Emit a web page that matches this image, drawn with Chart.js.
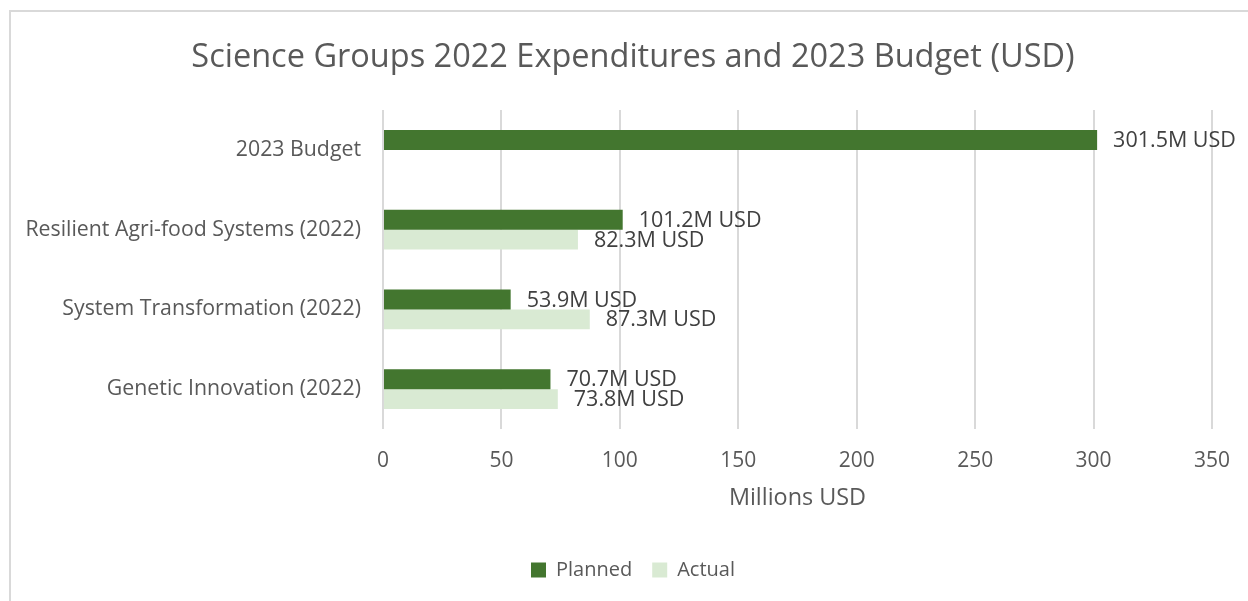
<!DOCTYPE html>
<html>
<head>
<meta charset="utf-8">
<script src="https://cdn.jsdelivr.net/npm/chart.js@4.4.0/dist/chart.umd.min.js"></script>
<style>
  html, body { margin: 0; padding: 0; background: #fff; }
  #wrap { position: relative; width: 1248px; height: 601px; overflow: hidden; }
  #frame { position: absolute; left: 9px; top: 10px; width: 1300px; height: 700px; border: 2px solid #d9d9d9; box-sizing: border-box; }
  #box { position: absolute; left: 0; top: 0; width: 1300px; height: 601px; }
</style>
</head>
<body>
<div id="wrap">
  <div id="frame"></div>
  <div id="box"><canvas id="budgetChart"></canvas></div>
</div>
<script>
const categories = [
    "2023 Budget",
    "Resilient Agri-food Systems (2022)",
    "System Transformation (2022)",
    "Genetic Innovation (2022)"
];
const planned = [301.5, 101.2, 53.9, 70.7];
const actual = [null, 82.3, 87.3, 73.8];
const xTicks = [0, 50, 100, 150, 200, 250, 300, 350];

const FONT = '"Open Sans", "Noto Sans", sans-serif';

// draws "xx.xM USD" next to every bar
const valueLabels = {
    id: 'valueLabels',
    afterDatasetsDraw(chart) {
        const ctx = chart.ctx;
        ctx.save();
        ctx.font = '21.5px ' + FONT;
        ctx.fillStyle = '#404040';
        ctx.textBaseline = 'middle';
        ctx.textAlign = 'left';
        chart.data.datasets.forEach((ds, i) => {
            const meta = chart.getDatasetMeta(i);
            meta.data.forEach((bar, j) => {
                const v = ds.data[j];
                if (v === null || v === undefined) return;
                ctx.fillText(v.toFixed(1) + 'M USD', bar.x + 16, bar.y + 1);
            });
        });
        ctx.restore();
    }
};

const ctx = document.getElementById('budgetChart').getContext('2d');

new Chart(ctx, {
    type: 'bar',
    data: {
        labels: categories,
        datasets: [
            {
                label: 'Planned',
                data: planned,
                backgroundColor: '#43762f',
                borderWidth: 0,
                categoryPercentage: 0.5,
                barPercentage: 1.0
            },
            {
                label: 'Actual',
                data: actual,
                backgroundColor: '#d9ead3',
                borderWidth: 0,
                categoryPercentage: 0.5,
                barPercentage: 1.0
            }
        ]
    },
    options: {
        indexAxis: 'y',
        responsive: true,
        maintainAspectRatio: false,
        animation: false,
        layout: {
            padding: { left: 0, right: 34, top: 0, bottom: 11 }
        },
        plugins: {
            title: {
                display: true,
                text: 'Science Groups 2022 Expenditures and 2023 Budget (USD)',
                color: '#595959',
                font: { family: FONT, size: 32.5, weight: 'normal' },
                padding: { top: 38, bottom: 33 }
            },
            legend: {
                position: 'bottom',
                labels: {
                    color: '#595959',
                    font: { family: FONT, size: 20 },
                    boxWidth: 15,
                    boxHeight: 15,
                    padding: 20
                }
            },
            tooltip: { enabled: false }
        },
        scales: {
            x: {
                min: xTicks[0],
                max: xTicks[xTicks.length - 1],
                afterBuildTicks: (axis) => {
                    axis.ticks = xTicks.map(v => ({ value: v }));
                },
                grid: { color: '#d9d9d9', lineWidth: 2, drawTicks: false },
                border: { display: false },
                ticks: {
                    color: '#595959',
                    font: { family: FONT, size: 21 },
                    padding: 19
                },
                title: {
                    display: true,
                    text: 'Millions USD',
                    color: '#595959',
                    font: { family: FONT, size: 23.4 },
                    padding: { top: 4, bottom: 28 }
                },
                afterFit: (axis) => {
                    axis.height = 111;
                }
            },
            y: {
                grid: { display: false, drawTicks: false },
                border: { display: false },
                ticks: {
                    color: '#595959',
                    font: { family: FONT, size: 21.3 },
                    padding: 22
                },
                afterFit: (axis) => {
                    axis.width = 383;
                }
            },
            // empty right-hand axis, only reserves room so the plot ends at 350
            yRight: {
                type: 'category',
                position: 'right',
                display: true,
                grid: { display: false, drawTicks: false },
                border: { display: false },
                ticks: { display: false },
                afterFit: (axis) => {
                    axis.width = 54;
                }
            }
        }
    },
    plugins: [valueLabels]
});
</script>
</body>
</html>
